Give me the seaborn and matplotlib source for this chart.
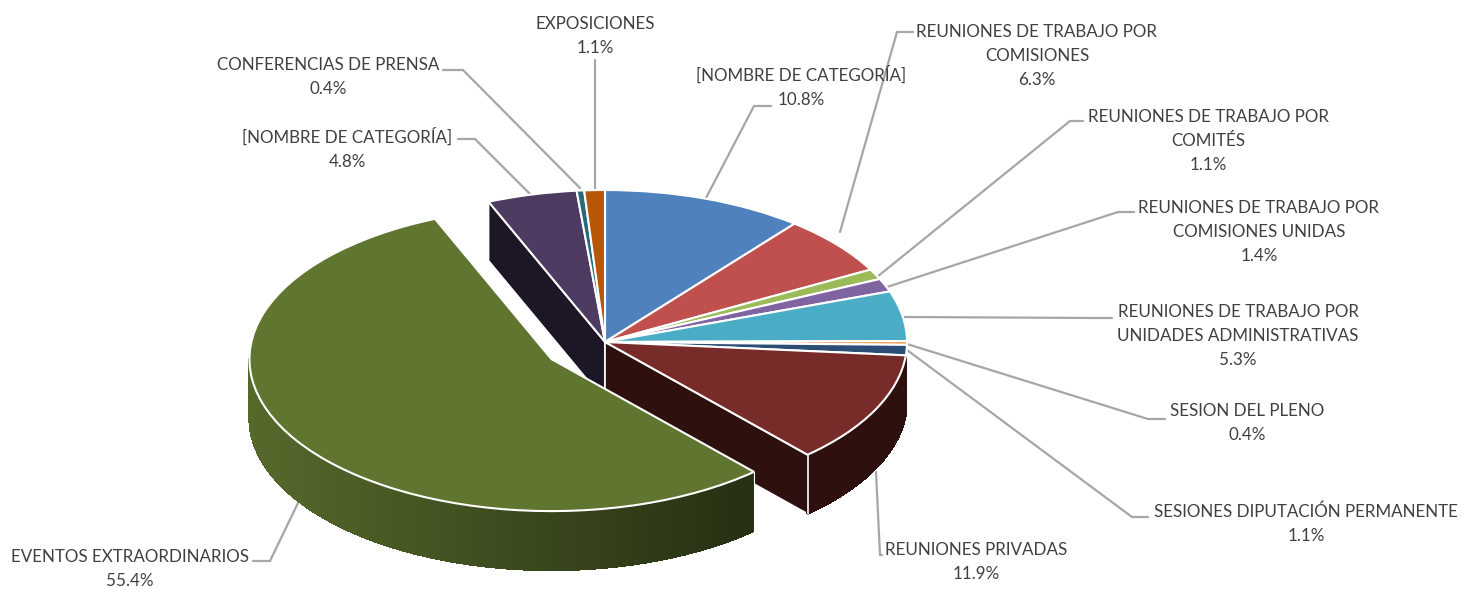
"""
Exploded pie with a fake 3D look: seaborn theme and blended wall colours,
matplotlib pie for the top faces.
"""

import numpy as np
import matplotlib
matplotlib.use("Agg")
import matplotlib.pyplot as plt
from matplotlib.collections import PolyCollection
import seaborn as sns

# data, clockwise from twelve o'clock
categories = ["[NOMBRE DE CATEGORÍA]",
              "REUNIONES DE TRABAJO POR\nCOMISIONES",
              "REUNIONES DE TRABAJO POR\nCOMITÉS",
              "REUNIONES DE TRABAJO POR\nCOMISIONES UNIDAS",
              "REUNIONES DE TRABAJO POR\nUNIDADES ADMINISTRATIVAS",
              "SESION DEL PLENO",
              "SESIONES DIPUTACIÓN PERMANENTE",
              "REUNIONES PRIVADAS",
              "EVENTOS EXTRAORDINARIOS",
              "[NOMBRE DE CATEGORÍA]",
              "CONFERENCIAS DE PRENSA",
              "EXPOSICIONES"]
values = [10.8, 6.3, 1.1, 1.4, 5.3, 0.4, 1.1, 11.9, 55.4, 4.8, 0.4, 1.1]
colors = ["#4F81BD", "#C0504D", "#9BBB59", "#8064A2", "#4BACC6", "#F79646",
          "#2C4D75", "#772C2A", "#5F7530", "#4D3B62", "#276A7C", "#B65708"]
explode = [0, 0, 0, 0, 0, 0, 0, 0, 0.21, 0, 0, 0]

# layout, in pixels of the 1464x589 picture
CX, CY = 605, 342
RX, RY = 302, 152
DEPTH = 59 / RY
label_centers = [(801, 87), (1037, 56), (1208, 141), (1259, 232), (1238, 336),
                 (1247, 423), (1306, 524), (976, 562), (130, 569), (347, 149),
                 (328, 77), (595, 36)]
leaders = [[(706, 198), (754, 106), (771, 106)],
           [(840, 232), (897, 32), (913, 32)],
           [(877, 277), (1070, 121), (1083, 121)],
           [(887, 287), (1118, 212), (1134, 212)],
           [(904, 317), (1095, 318), (1112, 318)],
           [(907, 344), (1148, 419), (1165, 419)],
           [(907, 350), (1132, 517), (1148, 517)],
           [(876, 472), (880, 555), (882, 555)],
           [(298, 503), (270, 561), (253, 561)],
           [(531, 195), (475, 139), (458, 139)],
           [(580, 188), (463, 70), (443, 70)],
           [(595, 190), (595, 60)]]


def to_data(x, y):
    """ Converts picture pixels into the pie's data units.
    """
    return (x - CX) / RX, (CY - y) / RY


def rim(wedge, theta):
    """ Returns the point of the wedge's rim at angle theta (degrees).
    """
    cx, cy = wedge.center
    return cx + np.cos(np.radians(theta)), cy + np.sin(np.radians(theta))


def cut_face(ax, wedge, theta, color):
    # the flat side of a slice, seen through the gap of the exploded slice
    cx, cy = wedge.center
    x, y = rim(wedge, theta)
    pts = [(cx, cy), (x, y), (x, y - DEPTH), (cx, cy - DEPTH)]
    ax.fill(*zip(*pts), facecolor=color, edgecolor="white", linewidth=1.2,
            zorder=2)


def outer_wall(ax, wedge, palette, zorder):
    # the round side of a slice, as thin strips shaded left to right
    start = max(wedge.theta1, -180)
    end = min(wedge.theta2, 0)
    thetas = np.linspace(start, end, 240)
    xs, ys = rim(wedge, thetas)
    polys, shades = [], []
    for i in range(len(thetas) - 1):
        polys.append([(xs[i], ys[i]), (xs[i + 1], ys[i + 1]),
                      (xs[i + 1], ys[i + 1] - DEPTH), (xs[i], ys[i] - DEPTH)])
        frac = (xs[i] - xs.min()) / (xs.max() - xs.min())
        shades.append(palette[int(frac * (len(palette) - 1))])
    ax.add_collection(PolyCollection(polys, facecolors=shades,
                                     edgecolors=shades, linewidths=0.8,
                                     antialiaseds=False, zorder=zorder))


def main():
    sns.set_theme(style="white")
    plt.rcParams["font.family"] = ["Lato", "DejaVu Sans"]

    fig = plt.figure(figsize=(14.64, 5.89), dpi=100)
    ax = fig.add_axes([0, 0, 1, 1])
    wedges, _ = ax.pie(values, colors=colors, explode=explode, startangle=90,
                       counterclock=False,
                       wedgeprops={"edgecolor": "white", "linewidth": 1.5})
    ax.set_aspect("auto")
    ax.set_xlim(to_data(0, 0)[0], to_data(1464, 0)[0])
    ax.set_ylim(to_data(0, 589)[1], to_data(0, 0)[1])

    for wedge in wedges:
        wedge.set_zorder(5)
    privadas, eventos, nombre = wedges[7], wedges[8], wedges[9]
    eventos.set_zorder(8)

    cut_face(ax, nombre, nombre.theta2, "#1D1627")
    cut_face(ax, privadas, privadas.theta1, "#2E100F")
    outer_wall(ax, privadas, ["#2E100F"], 3)
    outer_wall(ax, eventos, sns.blend_palette(["#56692B", "#252F13"], 256), 7)

    # thin white corners where the walls meet
    x, y = rim(privadas, privadas.theta1)
    ax.plot([x, x], [y, y - DEPTH], color="white", lw=1.2, zorder=4)
    x, y = rim(eventos, eventos.theta2)
    ax.plot([x, x], [y, y - DEPTH], color="white", lw=0.8, zorder=7)

    for line in leaders:
        xs, ys = zip(*[to_data(*p) for p in line])
        ax.plot(xs, ys, color="#A6A6A6", lw=1.6, zorder=1,
                solid_joinstyle="miter")

    for name, value, pos in zip(categories, values, label_centers):
        x, y = to_data(*pos)
        ax.text(x, y, f"{name}\n{value:.1f}%", ha="center", va="center",
                fontsize=12.25, color="#404040", linespacing=1.63, zorder=10)

    fig.savefig("out.png", dpi=100, facecolor="white")


if __name__ == "__main__":
    main()
